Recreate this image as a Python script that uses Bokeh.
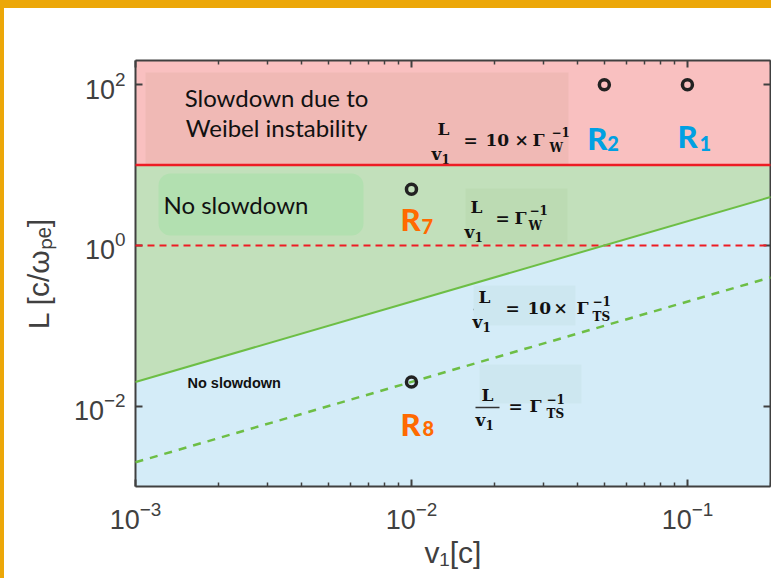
import numpy as np
from bokeh.plotting import figure
from bokeh.models import LogAxis, FixedTicker, Label, BoxAnnotation, Range1d
from bokeh.embed import file_html
from bokeh.resources import INLINE

# ---- axis ranges and ticks -------------------------------------------------
v1_range = [1e-3, 0.2]
L_range = [1e-3, 200.0]

v1_ticks = [1e-3, 1e-2, 1e-1]
v1_minor_ticks = [2e-3, 3e-3, 4e-3, 5e-3, 6e-3, 7e-3, 8e-3, 9e-3,
                  2e-2, 3e-2, 4e-2, 5e-2, 6e-2, 7e-2, 8e-2, 9e-2, 2e-1]
L_ticks = [1e-2, 1e0, 1e2]

# ---- regime boundaries: L as a function of v1 ------------------------------
v1_edges = [1e-3, 0.2]
L_ts10 = [0.02, 4.0]      # L/v1 = 10 x Gamma_TS^-1
L_ts = [0.002, 0.4]       # L/v1 = Gamma_TS^-1
L_w10 = [10.0, 10.0]      # L/v1 = 10 x Gamma_W^-1
L_w = [1.0, 1.0]          # L/v1 = Gamma_W^-1

# ---- simulation runs ------------------------------------------------------
run_names = ["R1", "R2", "R7", "R8"]
run_v1 = [0.1, 0.05, 0.01, 0.01]
run_L = [100.0, 100.0, 5.0, 0.02]

# ---- colours ---------------------------------------------------------------
AX = "#404040"
PINK = "#F9C0C0"
PINK_BOX = "#F0B9B5"
GREEN = "#C2E0BB"
GREEN_BOX = "#B2E0B0"
GREEN_EQ = "#BCDBB3"
BLUE = "#D4ECF8"
BLUE_EQ = "#CDE7F0"
RED = "#ED1C24"
GLINE = "#6DBE45"
RUN_BLUE = "#00A0E3"
RUN_ORANGE = "#FF6A00"
GOLD = "#ECA708"

W, H = 771, 578
FL, FR, FT, FB = 135, 770, 60, 486   # plotting frame on the canvas

p = figure(width=W, height=H, x_axis_type="log", y_axis_type="log",
           x_range=Range1d(*v1_range), y_range=Range1d(*L_range),
           output_backend="svg", toolbar_location=None,
           min_border_left=FL, min_border_right=W - FR,
           min_border_top=FT, min_border_bottom=H - FB)
p.grid.visible = False
p.outline_line_color = None
p.background_fill_color = "white"
# transparent border so the page frame (gold strips on top and left) shows
p.border_fill_color = None
p.styles = {
    "background": (f"linear-gradient({GOLD}, {GOLD}) top left / 100% 8px no-repeat, "
                   f"linear-gradient({GOLD}, {GOLD}) top left / 4px 100% no-repeat, #ffffff"),
}


def xpx(px):
    lo, hi = np.log10(v1_range)
    return float(10 ** (lo + (px - FL) / (FR - FL) * (hi - lo)))


def ypx(py):
    lo, hi = np.log10(L_range)
    return float(10 ** (hi - (py - FT) / (FB - FT) * (hi - lo)))


def style_axis(ax, show_labels):
    ax.axis_line_color = AX
    ax.axis_line_width = 2
    ax.major_tick_line_color = AX
    ax.major_tick_line_width = 2
    ax.minor_tick_line_color = AX
    ax.minor_tick_line_width = 1.5
    ax.major_tick_in = 7
    ax.major_tick_out = 0
    ax.minor_tick_in = 4
    ax.minor_tick_out = 0
    if show_labels:
        ax.major_label_text_font = "Liberation Sans"
        ax.major_label_text_font_size = "27px"
        ax.major_label_text_color = AX
        ax.axis_label_text_font = "Liberation Sans"
        ax.axis_label_text_font_size = "30px"
        ax.axis_label_text_font_style = "normal"
        ax.axis_label_text_color = AX
    else:
        # mirrored box axis: ticks only
        ax.major_label_text_font_size = "1px"
        ax.major_label_text_color = None
        ax.major_label_standoff = 0


xticker = FixedTicker(ticks=v1_ticks, minor_ticks=v1_minor_ticks)
yticker = FixedTicker(ticks=L_ticks, minor_ticks=[])

p.xaxis.ticker = xticker
p.yaxis.ticker = yticker
for ax in p.xaxis:
    style_axis(ax, True)
    ax.major_label_standoff = 14
    ax.axis_label = "v₁[c]"
    ax.axis_label_standoff = 4
for ax in p.yaxis:
    style_axis(ax, True)
    ax.major_label_standoff = 10
    ax.axis_label = "L [c/ωₚₑ]"
    ax.axis_label_standoff = 16

top_axis = LogAxis(ticker=xticker)
right_axis = LogAxis(ticker=yticker)
style_axis(top_axis, False)
style_axis(right_axis, False)
p.add_layout(top_axis, "above")
p.add_layout(right_axis, "right")

# ---- regime fills ---------------------------------------------------------
p.varea(x=v1_edges, y1=L_w10, y2=[L_range[1]] * 2, fill_color=PINK)
p.varea(x=v1_edges, y1=L_ts10, y2=L_w10, fill_color=GREEN)
p.varea(x=v1_edges, y1=[L_range[0]] * 2, y2=L_ts10, fill_color=BLUE)

# ---- text panels ----------------------------------------------------------
def panel(x0, x1, y0, y1, color, radius=0):
    p.add_layout(BoxAnnotation(left=xpx(x0), right=xpx(x1), top=ypx(y0), bottom=ypx(y1),
                               fill_color=color, fill_alpha=1, line_color=None,
                               border_radius=radius))


panel(145, 568, 72, 165, PINK_BOX)
panel(158, 363, 173, 235, GREEN_BOX, radius=12)
panel(465, 567, 188, 243, GREEN_EQ)
panel(473, 575, 285, 325, BLUE_EQ)
panel(479, 581, 364, 403, BLUE_EQ)

# ---- boundary lines and runs ------------------------------------------------
p.line(v1_edges, L_w10, line_color=RED, line_width=2.5, level="overlay")
p.line(v1_edges, L_w, line_color=RED, line_width=2, line_dash="7 5", level="overlay")
p.line(v1_edges, L_ts10, line_color=GLINE, line_width=2, level="overlay")
p.line(v1_edges, L_ts, line_color=GLINE, line_width=2.5, line_dash="8 7", level="overlay")
p.scatter(run_v1, run_L, marker="circle", size=10, fill_color=None,
          line_color="#222222", line_width=3.5, level="overlay")

# Label's "alphabetic" anchor sits near mid-cap; lift by this share of the size
LIFT = 0.36


# ---- text helpers -----------------------------------------------------------
def txt(px, py, s, size, font="DejaVu Serif", style="bold", color="#111111",
        align="left"):
    p.add_layout(Label(x=xpx(px), y=ypx(py), y_offset=LIFT * size, text=s,
                       text_font=font, text_font_size=f"{size}px",
                       text_font_style=style, text_color=color,
                       text_align=align, text_baseline="alphabetic"))


def bar(x0, x1, py):
    p.segment(x0=[xpx(x0)], x1=[xpx(x1)], y0=[ypx(py)], y1=[ypx(py)],
              line_color="#333333", line_width=1.3)


def fraction(cx, bar_y, x0, x1):
    txt(cx, bar_y - 6, "L", 17, align="center")
    bar(x0, x1, bar_y)
    txt(cx - 2, bar_y + 19, "v", 17, align="right")
    txt(cx - 2, bar_y + 22, "1", 12)


# L/v1 = 10 x Gamma_W^-1
fraction(443, 141, 432, 454)
txt(463, 146, "=", 17)
txt(485, 146, "10", 17)
txt(514, 146, "×", 17)
txt(532, 146, "Γ", 17)
txt(551, 136, "−1", 12)
txt(549, 152, "W", 12)

# L/v1 = Gamma_W^-1
fraction(476, 219, 466, 487)
txt(495, 224, "=", 17)
txt(514, 224, "Γ", 17)
txt(529, 214, "−1", 12)
txt(528, 230, "W", 12)

# L/v1 = 10 x Gamma_TS^-1
fraction(484, 309, 473, 496)
txt(505, 314, "=", 17)
txt(527, 314, "10", 17)
txt(553, 314, "×", 17)
txt(576, 314, "Γ", 17)
txt(592, 305, "−1", 12)
txt(592, 321, "TS", 12)

# L/v1 = Gamma_TS^-1
fraction(487, 407, 475, 499)
txt(508, 412, "=", 17)
txt(529, 412, "Γ", 17)
txt(546, 403, "−1", 12)
txt(546, 418, "TS", 12)

# regime descriptions
txt(276, 106, "Slowdown due to", 24, font="Lato", style="normal", align="center")
txt(276, 136, "Weibel instability", 24, font="Lato", style="normal", align="center")
txt(163, 213, "No slowdown", 24, font="Lato", style="normal")
txt(187, 388, "No slowdown", 14.5, font="Liberation Sans", style="bold")

# run labels: big "R" plus subscript number, hung below each marker
RUN_FONT = "'Lato Black', Lato"
R_SIZE, N_SIZE = 31, 20
run_colors = [RUN_BLUE, RUN_BLUE, RUN_ORANGE, RUN_ORANGE]
# (dx of R, baseline drop of R, dx of number, baseline drop of number), pixels
run_label_offsets = [(-10, 62, 12, 66), (-17, 64, 3, 66),
                     (-11, 41, 10, 44), (-11, 53, 11, 54)]
for name, xv, yv, col, (dxr, dyr, dxn, dyn) in zip(run_names, run_v1, run_L,
                                                   run_colors, run_label_offsets):
    p.add_layout(Label(x=xv, y=yv, x_offset=dxr, y_offset=-dyr + LIFT * R_SIZE,
                       text=name[0], text_font=RUN_FONT, text_font_style="bold",
                       text_font_size=f"{R_SIZE}px", text_color=col,
                       text_baseline="alphabetic"))
    p.add_layout(Label(x=xv, y=yv, x_offset=dxn, y_offset=-dyn + LIFT * N_SIZE,
                       text=name[1:], text_font=RUN_FONT, text_font_style="bold",
                       text_font_size=f"{N_SIZE}px", text_color=col,
                       text_baseline="alphabetic"))

open("out.html", "w").write(file_html(p, INLINE))
